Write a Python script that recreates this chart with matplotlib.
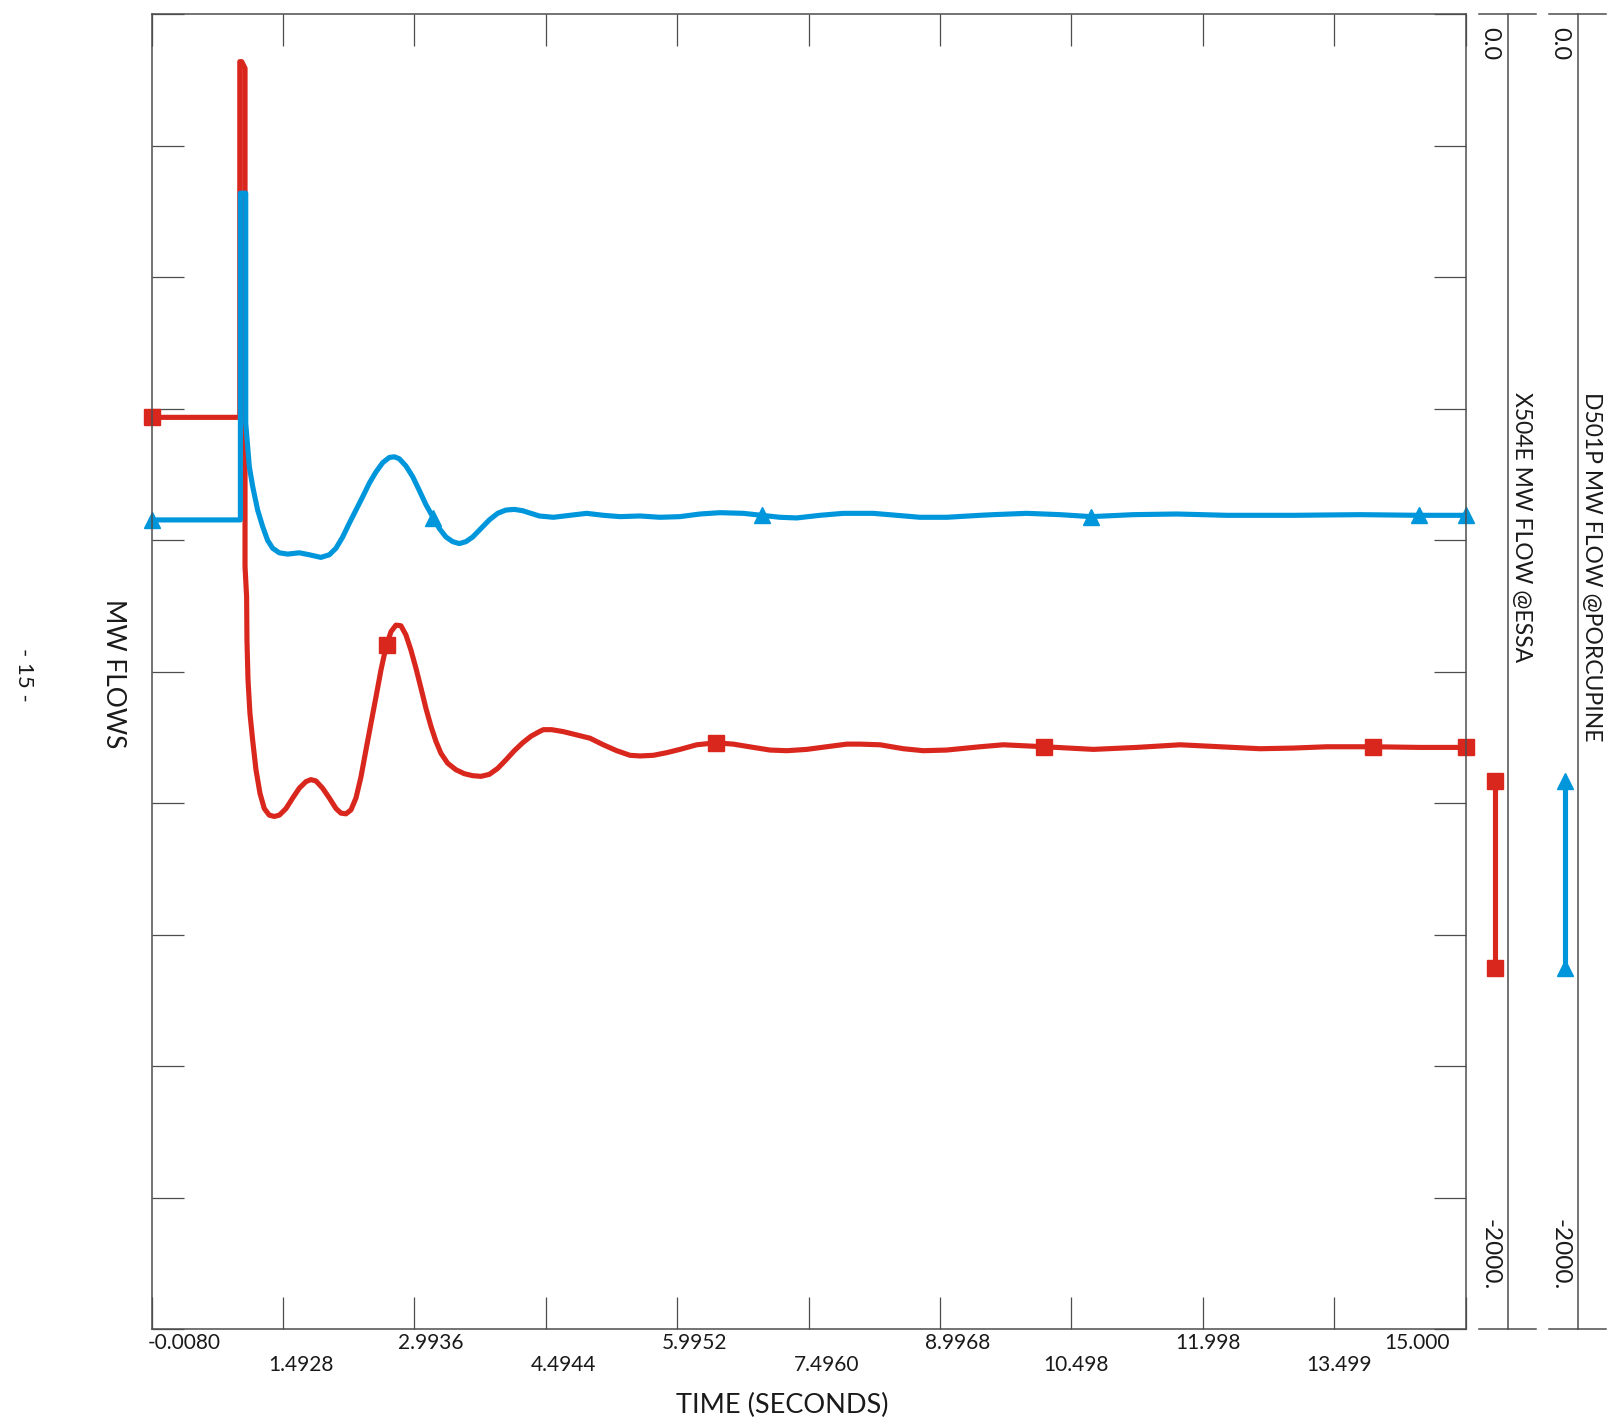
import numpy as np
import matplotlib.pyplot as plt
from matplotlib import transforms

plt.rcParams['font.family'] = ['Lato', 'DejaVu Sans']

# X504E MW FLOW @ESSA (red, squares)
essa_t = [-0.008, 0.998, 0.998, 1.020, 1.058, 1.058, 1.076, 1.080, 1.092, 1.114,
          1.145, 1.183, 1.229, 1.278, 1.335, 1.392, 1.450, 1.526, 1.602, 1.678,
          1.754, 1.811, 1.868, 1.944, 2.021, 2.097, 2.154, 2.211, 2.268, 2.325,
          2.382, 2.439, 2.497, 2.554, 2.611, 2.668, 2.725, 2.782, 2.839, 2.896,
          2.953, 3.011, 3.068, 3.125, 3.182, 3.239, 3.296, 3.372, 3.467, 3.563,
          3.658, 3.753, 3.848, 3.943, 4.038, 4.134, 4.229, 4.324, 4.419, 4.465,
          4.560, 4.694, 4.846, 4.998, 5.150, 5.303, 5.455, 5.569, 5.722, 5.874,
          6.026, 6.217, 6.434, 6.635, 6.864, 7.054, 7.245, 7.473, 7.701, 7.930,
          8.082, 8.311, 8.577, 8.805, 9.072, 9.300, 9.453, 9.719, 10.188, 10.747,
          11.242, 11.737, 12.194, 12.651, 13.032, 13.413, 13.945, 14.478, 15.000]
essa_mw = [-613, -613, -72, -72, -82, -840, -886, -952, -1012, -1063,
           -1104, -1149, -1185, -1208, -1218, -1220, -1218, -1208, -1192, -1177,
           -1167, -1164, -1166, -1177, -1192, -1208, -1215, -1216, -1210, -1192,
           -1160, -1119, -1078, -1038, -997, -962, -939, -929, -930, -944,
           -967, -995, -1025, -1056, -1083, -1106, -1124, -1139, -1149, -1155,
           -1158, -1159, -1156, -1147, -1134, -1120, -1108, -1098, -1091, -1088,
           -1088, -1091, -1096, -1101, -1111, -1120, -1127, -1128, -1127, -1123,
           -1118, -1111, -1108, -1110, -1115, -1119, -1120, -1118, -1114, -1110,
           -1110, -1111, -1117, -1120, -1119, -1116, -1114, -1111, -1114, -1118,
           -1115, -1111, -1114, -1117, -1116, -1114, -1114, -1115, -1115]

# D501P MW FLOW @PORCUPINE (blue, triangles)
porc_t = [-0.008, 1.005, 1.005, 1.066, 1.066, 1.107, 1.145, 1.202, 1.259, 1.316,
          1.373, 1.449, 1.545, 1.678, 1.792, 1.925, 2.021, 2.097, 2.173, 2.249,
          2.325, 2.401, 2.478, 2.554, 2.630, 2.706, 2.763, 2.820, 2.896, 2.972,
          3.048, 3.125, 3.201, 3.277, 3.353, 3.429, 3.505, 3.582, 3.658, 3.753,
          3.848, 3.943, 4.038, 4.134, 4.229, 4.419, 4.579, 4.770, 4.960, 5.151,
          5.341, 5.569, 5.798, 6.026, 6.255, 6.483, 6.750, 6.959, 7.168, 7.358,
          7.625, 7.892, 8.234, 8.501, 8.767, 9.072, 9.453, 9.605, 9.986, 10.367,
          10.721, 11.204, 11.699, 12.270, 13.032, 13.793, 14.471, 15.000]
porc_mw = [-769, -769, -272, -272, -622, -688, -718, -754, -779, -800,
           -812, -819, -821, -819, -822, -826, -822, -812, -795, -774,
           -754, -734, -713, -696, -682, -674, -673, -676, -687, -703,
           -724, -746, -764, -782, -795, -802, -805, -802, -795, -782,
           -769, -759, -754, -753, -755, -763, -765, -762, -759, -762,
           -764, -763, -765, -764, -760, -758, -759, -762, -765, -766,
           -762, -759, -759, -762, -765, -765, -762, -761, -759, -761,
           -764, -761, -760, -762, -762, -761, -762, -762]

essa_marks = [-0.008, 2.676, 6.434, 10.188, 13.945, 15.0]
porc_marks = [-0.008, 3.208, 6.959, 10.721, 14.471, 15.0]

x_ticks = np.linspace(-0.008, 15.0, 11)
x_labels = ['-0.0080', '1.4928', '2.9936', '4.4944', '5.9952', '7.4960',
            '8.9968', '10.498', '11.998', '13.499', '15.000']
label_dx = [33, 17.5, 16.5, 18, 17, 18, 18, 4, 5, 5, -49]   # pixel shifts

RED = '#D9271E'
BLUE = '#0096DB'
GREY = '#4d4d4d'
INK = '#1a1a1a'
W, H = 1616, 1420

fig = plt.figure(figsize=(W / 100, H / 100), dpi=100)
bottom = 1 - 1329.3 / H
height = (1329.3 - 14.3) / H
ax = fig.add_axes([151.7 / W, bottom, (1465.7 - 151.7) / W, height])

ax.plot(essa_t, essa_mw, color=RED, lw=3.7, solid_joinstyle='round', solid_capstyle='round')
ax.plot(essa_marks, np.interp(essa_marks, essa_t, essa_mw), 's', color=RED, ms=11, clip_on=False)
ax.plot(porc_t, porc_mw, color=BLUE, lw=3.7, solid_joinstyle='round', solid_capstyle='round')
ax.plot(porc_marks, np.interp(porc_marks, porc_t, porc_mw), '^', color=BLUE, ms=11, clip_on=False)

ax.set_xlim(-0.008, 15.0)
ax.set_ylim(-2000, 0)
ax.set_xticks(x_ticks)
ax.set_yticks(np.arange(-2000, 1, 200))
ax.tick_params(direction='in', length=23, width=0.9, color=GREY,
               top=True, right=True, labelbottom=False, labelleft=False)
for s in ax.spines.values():
    s.set_color(GREY)
    s.set_linewidth(1.1)

# staggered tick labels
for i, (xt, lab) in enumerate(zip(x_ticks, x_labels)):
    dy = 13.4 if i % 2 == 0 else 35.7
    tr = ax.get_xaxis_transform() + transforms.ScaledTranslation(
        label_dx[i] / 100, -dy / 100, fig.dpi_scale_trans)
    ax.text(xt, 0, lab, transform=tr, ha='center', va='center', fontsize=15, color=INK)

fig.text(782 / W, 1 - 1405 / H, 'TIME (SECONDS)', ha='center', va='center', fontsize=19.5, color=INK)
fig.text(114 / W, 1 - 674 / H, 'MW FLOWS', rotation=270, ha='center', va='center', fontsize=19, color=INK)
fig.text(24 / W, 1 - 675 / H, '- 15 -', rotation=270, ha='center', va='center', fontsize=16, color=INK)

# side scales, one per curve
scales = [('X504E MW FLOW @ESSA', RED, 's', 1479),
          ('D501P MW FLOW @PORCUPINE', BLUE, '^', 1549)]
for name, col, mk, x0 in scales:
    sax = fig.add_axes([x0 / W, bottom, 57 / W, height])
    sax.set_xlim(0, 1)
    sax.set_ylim(-2000, 0)
    sax.axis('off')
    sax.plot([0.5, 0.5], [-2000, 0], color=GREY, lw=1.1, clip_on=False)
    sax.plot([0, 1], [0, 0], color=GREY, lw=1.1, clip_on=False)
    sax.plot([0, 1], [-2000, -2000], color=GREY, lw=1.1, clip_on=False)
    sax.text(0.19, -19, '0.0', rotation=270, ha='center', va='top', fontsize=17, color=INK)
    sax.text(0.19, -1940, '-2000.', rotation=270, ha='center', va='bottom', fontsize=17.5, color=INK)
    sax.text(0.75, -575, name, rotation=270, ha='center', va='top', fontsize=16.5, color=INK)
    sax.plot([0.285, 0.285], [-1166, -1451], color=col, lw=3.7, marker=mk, ms=11, clip_on=False)

fig.savefig('out.png', dpi=100)
